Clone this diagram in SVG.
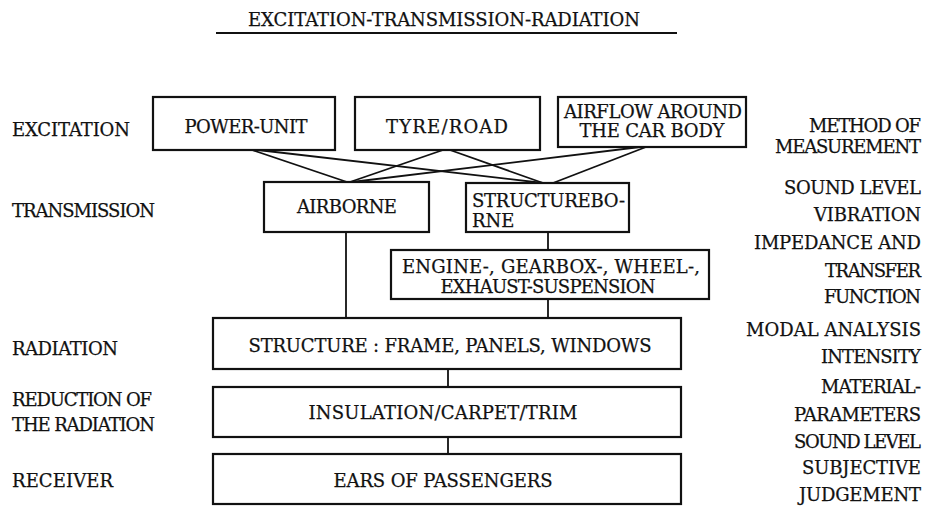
<svg xmlns="http://www.w3.org/2000/svg" width="931" height="519" viewBox="0 0 931 519">
<style>
.bg{fill:#fff}
.box{fill:none;stroke:#111;stroke-width:2.2}
.ln{fill:none;stroke:#111;stroke-width:1.8}
.tx{font-family:"DejaVu Serif",serif;font-size:18px;fill:#111}
text{stroke:#111;stroke-width:0.25}
.c{text-anchor:middle}
.r{text-anchor:end}
.sm{font-size:18px}
</style>
<rect class="bg" x="0" y="0" width="931" height="519"/>
<g class="tx" font-family="'DejaVu Serif', serif">
<g id="title">
<text x="248" y="26" textLength="392">EXCITATION-TRANSMISSION-RADIATION</text>
<line class="ln" x1="216" y1="33" x2="677" y2="33" stroke-width="2"/>
</g>
<g id="left-labels">
<text x="12" y="136" textLength="118">EXCITATION</text>
<text x="12" y="217" textLength="143">TRANSMISSION</text>
<text x="12" y="355" textLength="106">RADIATION</text>
<text x="12" y="406" textLength="140">REDUCTION OF</text>
<text x="12" y="431" textLength="143">THE RADIATION</text>
<text x="12" y="487" textLength="101">RECEIVER</text>
</g>
<g id="right-labels">
<text class="r" x="921" y="132" textLength="112">METHOD OF</text>
<text class="r" x="921" y="153" textLength="146">MEASUREMENT</text>
<text class="r" x="921" y="194" textLength="137">SOUND LEVEL</text>
<text class="r" x="921" y="221" textLength="107">VIBRATION</text>
<text class="r" x="921" y="249" textLength="167">IMPEDANCE AND</text>
<text class="r" x="921" y="277" textLength="96">TRANSFER</text>
<text class="r" x="921" y="303" textLength="97">FUNCTION</text>
<text class="r" x="921" y="336" textLength="175">MODAL ANALYSIS</text>
<text class="r" x="921" y="363" textLength="100">INTENSITY</text>
<text class="r" x="921" y="393" textLength="100">MATERIAL-</text>
<text class="r" x="921" y="421" textLength="127">PARAMETERS</text>
<text class="r" x="921" y="448" textLength="127">SOUND LEVEL</text>
<text class="r" x="921" y="474" textLength="119">SUBJECTIVE</text>
<text class="r" x="921" y="501" textLength="122">JUDGEMENT</text>
</g>
<g id="connectors">
<line class="ln" x1="252" y1="150" x2="347" y2="182"/>
<line class="ln" x1="258" y1="150" x2="543" y2="183"/>
<line class="ln" x1="443" y1="150" x2="350" y2="182"/>
<line class="ln" x1="450" y1="150" x2="543" y2="183"/>
<line class="ln" x1="640" y1="147" x2="352" y2="182"/>
<line class="ln" x1="646" y1="147" x2="553" y2="183"/>
<line class="ln" x1="346" y1="232" x2="346" y2="318"/>
<line class="ln" x1="548" y1="232" x2="548" y2="250"/>
<line class="ln" x1="548" y1="299" x2="548" y2="318"/>
<line class="ln" x1="448" y1="369" x2="448" y2="387"/>
<line class="ln" x1="448" y1="437" x2="448" y2="454"/>
</g>
<g id="power-unit">
<rect class="box" x="153" y="97" width="182" height="53"/>
<text class="c" x="246" y="133" textLength="123">POWER-UNIT</text>
</g>
<g id="tyre-road">
<rect class="box" x="355" y="97" width="185" height="53"/>
<text class="c" x="447" y="133" textLength="122">TYRE/ROAD</text>
</g>
<g id="airflow">
<rect class="box" x="558" y="97" width="188" height="50"/>
<text class="c sm" x="653" y="118" textLength="178">AIRFLOW AROUND</text>
<text class="c sm" x="652" y="137" textLength="145">THE CAR BODY</text>
</g>
<g id="airborne">
<rect class="box" x="264" y="182" width="165" height="50"/>
<text class="c" x="347" y="213" textLength="100">AIRBORNE</text>
</g>
<g id="structureborne">
<rect class="box" x="466" y="183" width="163" height="49"/>
<text class="sm" x="472" y="207" textLength="153">STRUCTUREBO-</text>
<text class="sm" x="472" y="227">RNE</text>
</g>
<g id="suspension">
<rect class="box" x="391" y="250" width="318" height="49"/>
<text class="c sm" x="551" y="273" textLength="298">ENGINE-, GEARBOX-, WHEEL-,</text>
<text class="c sm" x="548" y="293" textLength="215">EXHAUST-SUSPENSION</text>
</g>
<g id="structure">
<rect class="box" x="213" y="318" width="468" height="51"/>
<text class="c" x="450" y="352" textLength="403">STRUCTURE : FRAME, PANELS, WINDOWS</text>
</g>
<g id="insulation">
<rect class="box" x="213" y="387" width="468" height="50"/>
<text class="c" x="443" y="419" textLength="269">INSULATION/CARPET/TRIM</text>
</g>
<g id="ears">
<rect class="box" x="213" y="454" width="468" height="50"/>
<text class="c" x="443" y="487" textLength="219">EARS OF PASSENGERS</text>
</g>
</g>
</svg>
